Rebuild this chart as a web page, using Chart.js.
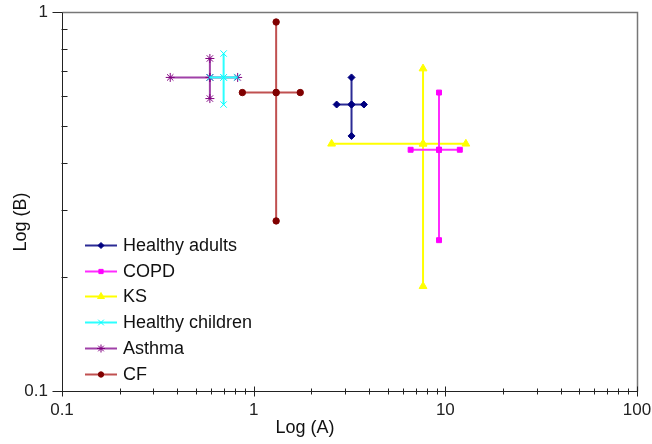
<!DOCTYPE html>
<html lang="en">

<head>
    <meta charset="UTF-8">
    <title>Log (B) vs Log (A)</title>
    <style>
        html, body { margin: 0; padding: 0; background: #fff; }
        .box { width: 652px; height: 444px; }
    </style>
</head>

<body>
    <div class="box">
        <canvas id="chart1" width="652" height="444"></canvas>
    </div>
    <script src="https://cdn.jsdelivr.net/npm/chart.js"></script>
    <script>
        // groups and their centre / range values
        var grupos = ['Healthy adults', 'COPD', 'KS', 'Healthy children', 'Asthma', 'CF'];
        var centroA = [3.24, 9.27, 7.65, 0.697, 0.591, 1.31];
        var centroB = [0.570, 0.433, 0.449, 0.672, 0.672, 0.613];
        var minA = [2.71, 6.59, 2.55, 0.591, 0.367, 0.873];
        var maxA = [3.76, 11.9, 12.8, 0.818, 0.825, 1.75];
        var minB = [0.471, 0.250, 0.189, 0.570, 0.591, 0.281];
        var maxB = [0.672, 0.613, 0.709, 0.777, 0.754, 0.941];

        var ticksA = [0.1, 1, 10, 100];
        var ticksB = [0.1, 1];

        // estilos
        var corMarca = ['#000080', '#ff00ff', '#ffff00', '#00ffff', '#800080', '#800000'];
        var corLinha = ['#2b2b95', '#ff2bff', '#ffff00', '#2bffff', '#a040a8', '#c05050'];
        var formas = ['rectRot', 'rect', 'triangle', 'crossRot', 'star', 'circle'];
        var tamanhos = [3.5, 3.5, 4.5, 4.5, 4.5, 3.2];

        var fonte = "'Liberation Sans', Arial, sans-serif";

        var datasets = [];
        for (var i = 0; i < grupos.length; i++) {
            var base = {
                label: grupos[i],
                showLine: true,
                borderColor: corLinha[i],
                borderWidth: 2,
                backgroundColor: corMarca[i],
                pointBorderColor: corMarca[i],
                pointBackgroundColor: corMarca[i],
                pointStyle: formas[i],
                pointRadius: tamanhos[i],
                pointBorderWidth: 1,
                fill: false
            };
            datasets.push(Object.assign({}, base, {
                data: [{ x: minA[i], y: centroB[i] }, { x: centroA[i], y: centroB[i] }, { x: maxA[i], y: centroB[i] }]
            }));
            datasets.push(Object.assign({}, base, {
                data: [{ x: centroA[i], y: minB[i] }, { x: centroA[i], y: centroB[i] }, { x: centroA[i], y: maxB[i] }]
            }));
        }

        function menores(lista) {
            var out = [];
            for (var k = 0; k < lista.length - 1; k++) {
                for (var m = 2; m <= 9; m++) out.push(lista[k] * m);
            }
            return out;
        }

        // box, tick marks, axis titles and legend
        var extras = {
            id: 'extras',
            afterDraw: function (chart) {
                var c = chart.ctx;
                var a = chart.chartArea;
                var sx = chart.scales.x;
                var sy = chart.scales.y;
                var L = Math.round(a.left) + 0.5, R = Math.round(a.right) + 0.5;
                var T = Math.round(a.top) + 0.5, B = Math.round(a.bottom) + 0.5;
                c.save();

                c.strokeStyle = '#777';
                c.lineWidth = 1.5;
                c.beginPath();
                c.moveTo(L, T); c.lineTo(R, T); c.lineTo(R, B);
                c.stroke();

                c.strokeStyle = '#222';
                c.lineWidth = 1;
                c.beginPath();
                c.moveTo(L, T); c.lineTo(L, B); c.lineTo(R, B);
                // x ticks
                ticksA.forEach(function (v) {
                    var px = Math.round(sx.getPixelForValue(v)) + 0.5;
                    c.moveTo(px, B - 5); c.lineTo(px, B + 5);
                });
                menores(ticksA).forEach(function (v) {
                    var px = Math.round(sx.getPixelForValue(v)) + 0.5;
                    c.moveTo(px, B - 3); c.lineTo(px, B + 3);
                });
                // y ticks
                ticksB.forEach(function (v) {
                    var py = Math.round(sy.getPixelForValue(v)) + 0.5;
                    c.moveTo(L - 10, py); c.lineTo(L, py);
                });
                menores(ticksB).forEach(function (v) {
                    var py = Math.round(sy.getPixelForValue(v)) + 0.5;
                    c.moveTo(L - 1, py); c.lineTo(L + 5, py);
                });
                c.stroke();

                // axis titles
                c.fillStyle = '#111';
                c.font = '18px ' + fonte;
                c.textAlign = 'center';
                c.textBaseline = 'middle';
                c.fillText('Log (A)', 305, 428);
                c.translate(21, 222);
                c.rotate(-Math.PI / 2);
                c.fillText('Log (B)', 0, 0);
                c.setTransform(1, 0, 0, 1, 0, 0);

                // legend
                var lx = 85, ly = 245, passo = 25.7;
                c.textAlign = 'left';
                c.font = '18px ' + fonte;
                for (var i = 0; i < grupos.length; i++) {
                    var y = Math.round(ly + i * passo) + 0.5;
                    c.strokeStyle = corLinha[i];
                    c.lineWidth = 2;
                    c.beginPath();
                    c.moveTo(lx, y); c.lineTo(lx + 32, y);
                    c.stroke();
                    c.strokeStyle = corMarca[i];
                    c.fillStyle = corMarca[i];
                    c.lineWidth = 1;
                    Chart.helpers.drawPoint(c, {
                        pointStyle: formas[i],
                        radius: tamanhos[i] - 0.5,
                        rotation: 0,
                        borderWidth: 1
                    }, lx + 16, y);
                    c.fillStyle = '#111';
                    c.fillText(grupos[i], lx + 38, y + 1);
                }
                c.restore();
            }
        };

        var chart1 = new Chart(document.getElementById('chart1'), {
            type: 'scatter',
            data: { datasets: datasets },
            options: {
                responsive: false,
                animation: false,
                layout: { padding: { top: 12, right: 15, left: 0, bottom: 0 } },
                plugins: {
                    legend: { display: false },
                    tooltip: { enabled: false }
                },
                scales: {
                    x: {
                        type: 'logarithmic',
                        min: 0.1,
                        max: 100,
                        afterBuildTicks: function (s) {
                            s.ticks = ticksA.map(function (v) { return { value: v }; });
                        },
                        afterFit: function (s) {
                            s.height = 53;
                            s.paddingLeft = 0;
                            s.paddingRight = 0;
                        },
                        grid: { display: false, drawTicks: false },
                        border: { display: false },
                        ticks: {
                            autoSkip: false,
                            maxRotation: 0,
                            padding: 9,
                            color: '#222',
                            font: { family: fonte, size: 17 },
                            callback: function (v) { return String(v); }
                        }
                    },
                    y: {
                        type: 'logarithmic',
                        min: 0.1,
                        max: 1,
                        afterBuildTicks: function (s) {
                            s.ticks = ticksB.map(function (v) { return { value: v }; });
                        },
                        afterFit: function (s) {
                            s.width = 62;
                            s.paddingTop = 0;
                            s.paddingBottom = 0;
                        },
                        grid: { display: false, drawTicks: false },
                        border: { display: false },
                        ticks: {
                            autoSkip: false,
                            padding: 14,
                            color: '#222',
                            font: { family: fonte, size: 17 },
                            callback: function (v) { return String(v); }
                        }
                    }
                }
            },
            plugins: [extras]
        });
    </script>
</body>

</html>
